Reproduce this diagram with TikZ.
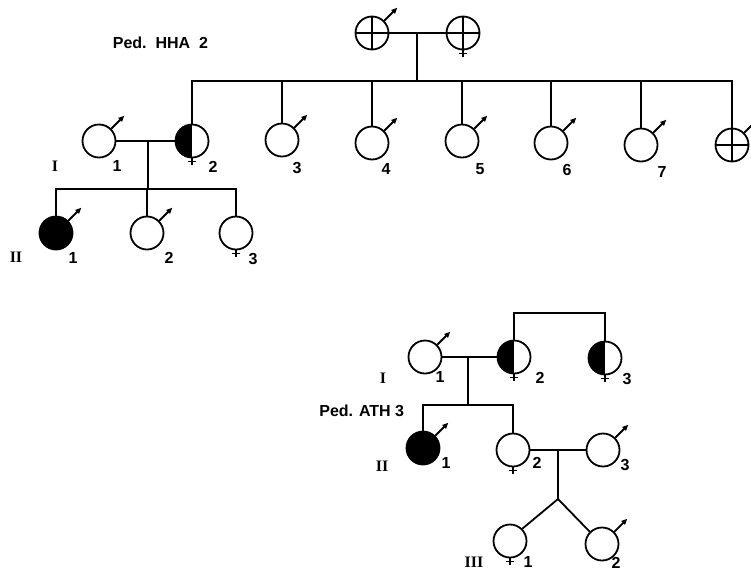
\documentclass[tikz,border=0pt]{standalone}
\usepackage{fontspec}
\setmainfont{Liberation Serif}
\setsansfont{Liberation Sans}
\usetikzlibrary{arrows.meta}

\tikzset{
  ind/.style={circle, draw, minimum size=33pt, inner sep=0pt},
  aff/.style={ind, fill=black},
  half/.style={ind, path picture={\fill (path picture bounding box.north west) rectangle (path picture bounding box.south);}},
  quart/.style={ind, path picture={\draw (path picture bounding box.north) -- (path picture bounding box.south)
      (path picture bounding box.west) -- (path picture bounding box.east);}},
  num/.style={font=\sffamily\bfseries\fontsize{16}{16}\selectfont, inner sep=0pt},
  gen/.style={font=\bfseries\fontsize{16}{16}\selectfont, inner sep=0pt},
}

% male arrow and female cross
\newcommand{\msym}[1]{\draw[-{Triangle[length=6pt,width=5pt]}] (#1.45) -- ++(13,-13);}
\newcommand{\fsym}[1]{\draw (#1.south) -- ++(0,7) ++(-4,-4) -- ++(8,0);}

\begin{document}
\begin{tikzpicture}[x=1pt, y=-1pt, line width=1.8pt]
\useasboundingbox (0,0) rectangle (751,571);

% Ped. HHA 2
\node[num, anchor=west] (hha) at (112,43) {Ped.\ \ HHA\ \ 2};
\node[quart] (p1) at (372,33) {};
\node[quart] (p2) at (463,33) {};
\msym{p1} \fsym{p2}
\draw (p1) -- (p2);
\coordinate (m0) at (417,33);
\coordinate (s1) at (417,81);
\draw (m0) -- (s1);

\node[ind] (a1) at (99,141) {};
\node[half] (a2) at (192,141) {};
\node[ind] (a3) at (282,140) {};
\node[ind] (a4) at (372,143) {};
\node[ind] (a5) at (462,141) {};
\node[ind] (a6) at (551,143) {};
\node[ind] (a7) at (641,145) {};
\node[quart] (a8) at (732,145) {};
\foreach \n in {a1,a3,a4,a5,a6,a7,a8} {\msym{\n}}
\fsym{a2}
\draw (a2.north) |- (a8.north |- s1) -- (a8.north);
\foreach \n in {a3,a4,a5,a6,a7} {\draw (\n.north) -- (\n.north |- s1);}
\node[num] (a1n) at (117,166) {1};
\node[num] (a2n) at (213,167) {2};
\node[num] (a3n) at (297,168) {3};
\node[num] (a4n) at (386,169) {4};
\node[num] (a5n) at (480,169) {5};
\node[num] (a6n) at (567,170) {6};
\node[num] (a7n) at (662,172) {7};
\node[gen] (g1) at (55,166) {I};

\draw (a1) -- (a2);
\coordinate (m1) at (148,141);
\coordinate (s2) at (148,189);
\draw (m1) -- (s2);
\node[aff] (b1) at (56,233) {};
\node[ind] (b2) at (147,233) {};
\node[ind] (b3) at (236,233) {};
\msym{b1} \msym{b2} \fsym{b3}
\draw (b1.north) |- (b3.north |- s2) -- (b3.north);
\draw (b2.north) -- (b2.north |- s2);
\node[num] (b1n) at (73,258) {1};
\node[num] (b2n) at (169,258) {2};
\node[num] (b3n) at (253,259) {3};
\node[gen] (g2) at (16,257) {II};

% Ped. ATH 3
\node[ind] (c1) at (425,357) {};
\node[half] (c2) at (514,357) {};
\node[half] (c3) at (605,358) {};
\msym{c1} \fsym{c2} \fsym{c3}
\coordinate (s3) at (560,313);
\draw (c2.north) |- (s3) -| (c3.north);
\draw (c1) -- (c2);
\coordinate (m2) at (468,357);
\coordinate (s4) at (468,405);
\draw (m2) -- (s4);
\node[num] (c1n) at (440,377) {1};
\node[num] (c2n) at (540,378) {2};
\node[num] (c3n) at (627,379) {3};
\node[gen] (g3) at (383,378) {I};
\node[num, anchor=east] (ath) at (405,411) {Ped. ATH 3};

\node[aff] (d1) at (423,448) {};
\node[ind] (d2) at (513,450) {};
\node[ind] (d3) at (603,450) {};
\msym{d1} \fsym{d2} \msym{d3}
\draw (d1.north) |- (d2.north |- s4) -- (d2.north);
\draw (d2) -- (d3);
\coordinate (m3) at (558,450);
\coordinate (t1) at (558,499);
\draw (m3) -- (t1);
\node[num] (d1n) at (446,463) {1};
\node[num] (d2n) at (537,463) {2};
\node[num] (d3n) at (625,465) {3};
\node[gen] (g4) at (382,466) {II};

\node[ind] (e1) at (510,541) {};
\node[ind] (e2) at (602,544) {};
\fsym{e1} \msym{e2}
\draw (e1.45) -- (t1) -- (e2.135);
\node[num] (e1n) at (528,562) {1};
\node[num] (e2n) at (616,563) {2};
\node[gen] (g5) at (474,562) {III};
\end{tikzpicture}
\end{document}
